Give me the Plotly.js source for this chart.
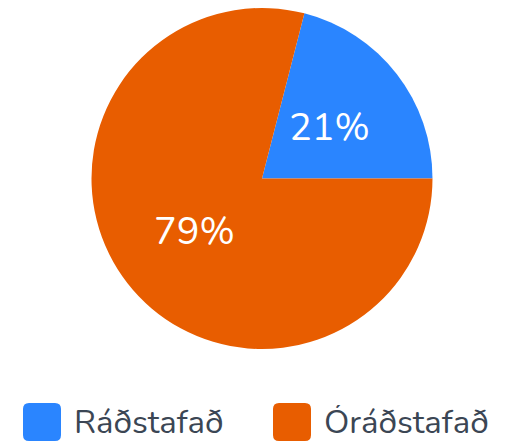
<!DOCTYPE html>
<html>
<head>
<meta charset="utf-8">
<script src="https://cdn.plot.ly/plotly-3.0.1.min.js"></script>
<style>html,body{margin:0;padding:0;background:#fff;}#chart{width:517px;height:443px;}</style>
</head>
<body>
<div id="chart"></div>
<script>
const labels = ["Ráðstafað", "Óráðstafað"];
const values = [21, 79];
const colors = ["#2a85ff", "#e85d00"];

const W = 517, H = 443;
const FONT = "Nunito, 'Noto Sans', Lato, sans-serif";
const px = x => x / W;
const py = y => 1 - y / H;

const shapes = [], annotations = [];

// custom legend (large rounded swatches)
const legendX = [23, 273];
const legendY = 422;
const sw = 38, rad = 6;
labels.forEach((lab, i) => {
  const x0 = legendX[i], x1 = x0 + sw, y0 = legendY - sw / 2, y1 = legendY + sw / 2;
  const p = `M ${px(x0 + rad)} ${py(y0)} L ${px(x1 - rad)} ${py(y0)} Q ${px(x1)} ${py(y0)} ${px(x1)} ${py(y0 + rad)} ` +
    `L ${px(x1)} ${py(y1 - rad)} Q ${px(x1)} ${py(y1)} ${px(x1 - rad)} ${py(y1)} L ${px(x0 + rad)} ${py(y1)} ` +
    `Q ${px(x0)} ${py(y1)} ${px(x0)} ${py(y1 - rad)} L ${px(x0)} ${py(y0 + rad)} Q ${px(x0)} ${py(y0)} ${px(x0 + rad)} ${py(y0)} Z`;
  shapes.push({type: "path", xref: "paper", yref: "paper", path: p, fillcolor: colors[i], line: {width: 0}});
  annotations.push({
    xref: "paper", yref: "paper", x: px(x1 + 11), y: py(legendY), xanchor: "left", yanchor: "middle",
    height: 34, valign: "middle",
    text: lab, showarrow: false, font: {family: FONT, size: 33, color: "#3b4654"}
  });
});

// pie geometry
const cx = 262, cy = 178.5, r = 170.5, rotationDeg = 14.4;

// percentage labels at half radius along each slice's mid-angle (derived from values)
const total = values.reduce((a, b) => a + b, 0);
let cum = 0;
values.forEach((v, i) => {
  const mid = (rotationDeg + (cum + v / 2) / total * 360) * Math.PI / 180;
  cum += v;
  const lx = cx + 0.5 * r * Math.sin(mid);
  const ly = cy - 0.5 * r * Math.cos(mid) + 1;
  annotations.push({
    xref: "paper", yref: "paper", x: px(lx), y: py(ly), xanchor: "center", yanchor: "middle",
    text: Math.round(v / total * 100) + "%", showarrow: false,
    font: {family: FONT, size: 38, color: "#ffffff"}
  });
});

const data = [{
  type: "pie",
  labels: labels,
  values: values,
  sort: false,
  direction: "clockwise",
  rotation: rotationDeg,
  marker: {colors: colors, line: {width: 0}},
  textinfo: "none",
  hoverinfo: "label+percent",
  showlegend: false,
  domain: {x: [px(cx - r), px(cx + r)], y: [py(cy + r), py(cy - r)]}
}];

const layout = {
  width: W, height: H,
  margin: {l: 0, r: 0, t: 0, b: 0},
  paper_bgcolor: "#ffffff",
  showlegend: false,
  shapes: shapes,
  annotations: annotations,
  font: {family: FONT}
};

Plotly.newPlot("chart", data, layout, {displayModeBar: false, staticPlot: true});
</script>
</body>
</html>
